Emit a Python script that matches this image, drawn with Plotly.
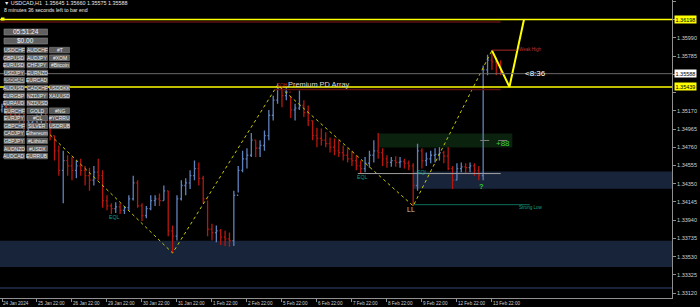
import plotly.graph_objects as go

# ---------------- data ----------------
symbol_line = "▼ USDCAD,H1  1.35645 1.35660 1.35575 1.35588"
timer_line = "8 minutes 36 seconds left to bar end"

# bar time (hours since 24 Jan 22:00, weekends removed), 3-hour bars
bar_hours = list(range(0, 345, 3))
bar_high = [1.3525, 1.3524, 1.3522, 1.3520, 1.3518, 1.3515, 1.3509, 1.3512, 1.3513, 1.3515,
            1.3518, 1.3512, 1.3489, 1.3478, 1.3472, 1.3467, 1.3465, 1.3461, 1.3463, 1.3455,
            1.3453, 1.3455, 1.3463, 1.3450, 1.3422, 1.3413, 1.3414, 1.3413, 1.3410, 1.3422,
            1.3444, 1.3439, 1.3413, 1.3410, 1.3422, 1.3422, 1.3424, 1.3433, 1.3427, 1.3388,
            1.3422, 1.3439, 1.3441, 1.3450, 1.3461, 1.3459, 1.3444, 1.3416, 1.3390, 1.3388,
            1.3384, 1.3382, 1.3380, 1.3427, 1.3455, 1.3472, 1.3475, 1.3492, 1.3484, 1.3484,
            1.3495, 1.3518, 1.3534, 1.3548, 1.3542, 1.3544, 1.3534, 1.3525, 1.3540, 1.3529,
            1.3523, 1.3506, 1.3498, 1.3497, 1.3493, 1.3487, 1.3486, 1.3484, 1.3478, 1.3475,
            1.3472, 1.3467, 1.3461, 1.3465, 1.3472, 1.3484, 1.3492, 1.3475, 1.3467, 1.3465,
            1.3466, 1.3465, 1.3463, 1.3461, 1.3458, 1.3480, 1.3475, 1.3470, 1.3472, 1.3475,
            1.3476, 1.3472, 1.3476, 1.3455, 1.3458, 1.3459, 1.3458, 1.3459, 1.3458, 1.3455,
            1.3568, 1.3580, 1.3585, 1.3577, 1.3574]
bar_low = [1.3515, 1.3513, 1.3509, 1.3506, 1.3502, 1.3495, 1.3492, 1.3497, 1.3499, 1.3502,
           1.3500, 1.3484, 1.3461, 1.3444, 1.3413, 1.3444, 1.3439, 1.3441, 1.3444, 1.3433,
           1.3427, 1.3433, 1.3439, 1.3408, 1.3405, 1.3401, 1.3402, 1.3401, 1.3401, 1.3405,
           1.3416, 1.3408, 1.3393, 1.3396, 1.3405, 1.3410, 1.3410, 1.3416, 1.3376, 1.3357,
           1.3371, 1.3416, 1.3422, 1.3429, 1.3439, 1.3433, 1.3413, 1.3376, 1.3371, 1.3369,
           1.3366, 1.3365, 1.3364, 1.3365, 1.3425, 1.3448, 1.3452, 1.3465, 1.3465, 1.3465,
           1.3472, 1.3484, 1.3506, 1.3525, 1.3521, 1.3529, 1.3509, 1.3506, 1.3518, 1.3510,
           1.3500, 1.3484, 1.3476, 1.3478, 1.3476, 1.3470, 1.3467, 1.3465, 1.3461, 1.3459,
           1.3455, 1.3450, 1.3446, 1.3448, 1.3453, 1.3459, 1.3463, 1.3455, 1.3453, 1.3454,
           1.3454, 1.3453, 1.3452, 1.3450, 1.3410, 1.3427, 1.3452, 1.3455, 1.3458, 1.3459,
           1.3461, 1.3458, 1.3450, 1.3429, 1.3439, 1.3448, 1.3446, 1.3448, 1.3444, 1.3439,
           1.3439, 1.3557, 1.3563, 1.3557, 1.3557]
bar_close = [1.3522, 1.3518, 1.3515, 1.3512, 1.3509, 1.3500, 1.3504, 1.3506, 1.3509, 1.3511,
             1.3506, 1.3489, 1.3472, 1.3450, 1.3461, 1.3455, 1.3450, 1.3455, 1.3450, 1.3444,
             1.3439, 1.3448, 1.3444, 1.3416, 1.3410, 1.3407, 1.3409, 1.3405, 1.3408, 1.3418,
             1.3436, 1.3410, 1.3399, 1.3407, 1.3416, 1.3418, 1.3416, 1.3427, 1.3382, 1.3376,
             1.3418, 1.3433, 1.3436, 1.3444, 1.3452, 1.3441, 1.3418, 1.3384, 1.3380, 1.3382,
             1.3375, 1.3373, 1.3371, 1.3422, 1.3450, 1.3463, 1.3467, 1.3484, 1.3475, 1.3478,
             1.3489, 1.3512, 1.3529, 1.3542, 1.3534, 1.3538, 1.3518, 1.3520, 1.3523, 1.3515,
             1.3506, 1.3489, 1.3486, 1.3484, 1.3480, 1.3476, 1.3472, 1.3470, 1.3467, 1.3463,
             1.3461, 1.3455, 1.3452, 1.3458, 1.3467, 1.3472, 1.3470, 1.3463, 1.3459, 1.3461,
             1.3459, 1.3460, 1.3458, 1.3455, 1.3433, 1.3472, 1.3461, 1.3463, 1.3467, 1.3468,
             1.3470, 1.3466, 1.3452, 1.3439, 1.3452, 1.3454, 1.3453, 1.3455, 1.3450, 1.3444,
             1.3563, 1.3574, 1.3572, 1.3568, 1.3559]
first_open = 1.3518
bar_open = [first_open] + bar_close[:-1]

# zigzag structure (hour, price)
zz_hours = [33, 117, 189, 282, 336]
zz_price = [1.3490, 1.3357, 1.3546, 1.3410, 1.3585]
# projected path
proj_hours = [336, 348, 358]
proj_price = [1.3585, 1.35439, 1.36198]

# price levels
level_top = 1.36198
level_top_red = 1.3617
level_mid = 1.35439
level_mid_red = 1.3541
current_price = 1.35588
eql_line = 1.34464
strong_low = 1.34114
weak_high = 1.35853
fvg_dash = 1.34836

# zones (price ranges)
zone_low_big = (1.33414, 1.33707)
zone_low_thin = (1.33166, 1.33188)
zone_demand = (1.34294, 1.34487)
zone_green = (1.34757, 1.34915)

# axis ticks
ytick_vals = [1.36400, 1.36195, 1.35990, 1.35785, 1.35580, 1.35375, 1.35170, 1.34965,
              1.34760, 1.34555, 1.34350, 1.34145, 1.33940, 1.33735, 1.33530, 1.33325, 1.33120]
ytick_hidden = [1.36195, 1.35580, 1.35375]   # covered by the price boxes
xtick_hours = [0, 24, 48, 72, 96, 120, 144, 168, 192, 216, 240, 264, 288, 312, 336]
xtick_text = ["24 Jan 2024", "25 Jan 22:00", "26 Jan 22:00", "29 Jan 22:00", "30 Jan 22:00",
              "31 Jan 22:00", "1 Feb 22:00", "2 Feb 22:00", "5 Feb 22:00", "6 Feb 22:00",
              "7 Feb 22:00", "8 Feb 22:00", "9 Feb 22:00", "12 Feb 22:00", "13 Feb 22:00"]

panel_col1 = ["USDCHF", "GBPUSD", "EURUSD", "USDJPY", "USDCAD", "AUDUSD", "EURGBP", "EURAUD",
              "EURCHF", "EURJPY", "GBPCHF", "CADJPY", "GBPJPY", "AUDNZD", "AUDCAD"]
panel_col2 = ["AUDCHF", "AUDJPY", "CHFJPY", "EURNZD", "EURCAD", "CADCHF", "NZDJPY", "NZDUSD",
              "GOLD", "#CL", "SILVER", "Ethereum", "#Lithium", "#USDX", "EURRUB"]
panel_col3 = ["#T", "#XOM", "#Bitcoin", "", "", "USDDKK", "XAUUSD", "",
              "#NG", "#YCRRU", "USDRUB", "", "", "", ""]
panel_clock = "05:51:24"
panel_money = "$0.00"

# ---------------- figure ----------------
W, H = 700, 307
PL, PR, PT, PB = 0, 28, 0, 9
PW, PH = W - PL - PR, H - PT - PB
XR = [-1.37, 459.5]
YR = [1.33064, 1.36417]

UP = "#5f82bd"
DN = "#b8170f"
YEL = "#ffff00"
FONT = "Liberation Sans"

def px(x):
    return x / PW

def py(y):
    return 1 - y / PH

fig = go.Figure()

fig.add_trace(go.Ohlc(
    x=bar_hours, open=bar_open, high=bar_high, low=bar_low, close=bar_close,
    increasing=dict(line=dict(color=UP, width=1.3)),
    decreasing=dict(line=dict(color=DN, width=1.3)),
    tickwidth=0.3, showlegend=False, hoverinfo="skip"))

fig.add_trace(go.Scatter(x=zz_hours, y=zz_price, mode="lines",
                         line=dict(color="#c8c800", width=1, dash="dot"),
                         showlegend=False, hoverinfo="skip"))
fig.add_trace(go.Scatter(x=proj_hours, y=proj_price, mode="lines",
                         line=dict(color=YEL, width=2),
                         showlegend=False, hoverinfo="skip"))

shapes = []
zone_col = "#18243a"
shapes.append(dict(type="rect", xref="paper", yref="y", x0=0, x1=1, y0=zone_low_big[0], y1=zone_low_big[1],
                   fillcolor=zone_col, line=dict(width=0), layer="below"))
shapes.append(dict(type="rect", xref="paper", yref="y", x0=0, x1=1, y0=zone_low_thin[0], y1=zone_low_thin[1],
                   fillcolor=zone_col, line=dict(width=0), layer="below"))
shapes.append(dict(type="rect", xref="x", yref="y", x0=282, x1=XR[1], y0=zone_demand[0], y1=zone_demand[1],
                   fillcolor=zone_col, line=dict(width=0), layer="below"))
shapes.append(dict(type="rect", xref="x", yref="y", x0=258, x1=350, y0=zone_green[0], y1=zone_green[1],
                   fillcolor="#0b220f", line=dict(width=0), layer="below"))
shapes.append(dict(type="line", xref="x", yref="y", x0=328, x1=348, y0=fvg_dash, y1=fvg_dash,
                   line=dict(color="#7a7a7a", width=1, dash="dash")))
shapes.append(dict(type="line", xref="paper", yref="y", x0=0, x1=1, y0=level_top, y1=level_top,
                   line=dict(color=YEL, width=1.5)))
shapes.append(dict(type="line", xref="x", yref="y", x0=XR[0], x1=342, y0=level_top_red, y1=level_top_red,
                   line=dict(color="#5e1010", width=1.5)))
shapes.append(dict(type="line", xref="paper", yref="y", x0=0, x1=1, y0=current_price, y1=current_price,
                   line=dict(color="#6a6a6a", width=1)))
shapes.append(dict(type="line", xref="x", yref="y", x0=187, x1=342, y0=level_mid_red, y1=level_mid_red,
                   line=dict(color="#5e1010", width=1.5)))
shapes.append(dict(type="line", xref="paper", yref="y", x0=0, x1=1, y0=level_mid, y1=level_mid,
                   line=dict(color=YEL, width=1.5)))
shapes.append(dict(type="line", xref="x", yref="y", x0=244, x1=342, y0=eql_line, y1=eql_line,
                   line=dict(color="#a0a0a0", width=1)))
shapes.append(dict(type="line", xref="x", yref="y", x0=282, x1=362, y0=strong_low, y1=strong_low,
                   line=dict(color="#0d6e5c", width=1)))
shapes.append(dict(type="line", xref="x", yref="y", x0=336, x1=353, y0=weak_high, y1=weak_high,
                   line=dict(color="#a82a2a", width=1)))
shapes.append(dict(type="rect", xref="paper", yref="paper", x0=px(1), x1=px(4.5),
                   y0=py(20.5), y1=py(17.5), fillcolor=YEL, line=dict(width=0)))

annotations = []
annotations.append(dict(text=symbol_line, xref="paper", yref="paper", x=px(2), y=py(3.5),
                        xanchor="left", yanchor="middle", showarrow=False,
                        font=dict(family=FONT, size=5.4, color="#e8e8e8")))
annotations.append(dict(text=timer_line, xref="paper", yref="paper", x=px(2), y=py(9.5),
                        xanchor="left", yanchor="middle", showarrow=False,
                        font=dict(family=FONT, size=5.2, color="#e8e8e8")))

btn_font = dict(family=FONT, size=5.0, color="#f0f0f0")
for (y0, txt) in [(29, panel_clock), (38, panel_money)]:
    shapes.append(dict(type="rect", xref="paper", yref="paper", x0=px(4), x1=px(47.5),
                       y0=py(y0 + 6), y1=py(y0), fillcolor="#606060",
                       line=dict(color="#8c8c8c", width=0.6)))
    annotations.append(dict(text=txt, xref="paper", yref="paper", x=px(25.75), y=py(y0 + 3),
                            xanchor="center", yanchor="middle", showarrow=False,
                            font=dict(family=FONT, size=6.5, color="#f4f4f4")))
cols = [(4, 24.5, panel_col1), (27, 47.5, panel_col2), (49.5, 69.5, panel_col3)]
for r in range(15):
    ytop = 47.3 + 7.57 * r
    for (xa, xb, names) in cols:
        name = names[r]
        if not name:
            continue
        fill = "#a8a8a8" if name == "USDCAD" else "#5c5c5c"
        fcol = "#303030" if name == "USDCAD" else "#f0f0f0"
        shapes.append(dict(type="rect", xref="paper", yref="paper", x0=px(xa), x1=px(xb),
                           y0=py(ytop + 5.6), y1=py(ytop), fillcolor=fill,
                           line=dict(color="#8c8c8c", width=0.5)))
        annotations.append(dict(text=name, xref="paper", yref="paper", x=px((xa + xb) / 2),
                                y=py(ytop + 2.9), xanchor="center", yanchor="middle",
                                showarrow=False, font=dict(btn_font, color=fcol)))

annotations += [
    dict(text="Premium PD Array", x=194.5, y=1.3547, xanchor="left", yanchor="middle",
         font=dict(family=FONT, size=7.4, color="#d8d8d8")),
    dict(text="EQH", x=187, y=1.3546, xanchor="left", yanchor="middle",
         font=dict(family=FONT, size=4.5, color="#c02020")),
    dict(text="EQL", x=77, y=1.3397, xanchor="center", yanchor="middle",
         font=dict(family=FONT, size=5.2, color="#18a088")),
    dict(text="EQL", x=247, y=1.3443, xanchor="center", yanchor="middle",
         font=dict(family=FONT, size=5.2, color="#18a088")),
    dict(text="EQL", x=288, y=1.3448, xanchor="center", yanchor="middle",
         font=dict(family=FONT, size=5.2, color="#18a088")),
    dict(text="LL", x=280.5, y=1.3406, xanchor="center", yanchor="middle",
         font=dict(family=FONT, size=7, color="#c8c8c8")),
    dict(text="<b>?</b>", x=329, y=1.3432, xanchor="center", yanchor="middle",
         font=dict(family=FONT, size=7.5, color="#30d030")),
    dict(text="+88", x=349.5, y=1.3480, xanchor="right", yanchor="middle",
         font=dict(family=FONT, size=8, color="#40d040")),
    dict(text="<8:36", x=357, y=current_price, xanchor="left", yanchor="middle",
         font=dict(family=FONT, size=8, color="#ffffff")),
    dict(text="Weak High", x=353.5, y=weak_high + 0.00003, xanchor="left", yanchor="middle",
         font=dict(family=FONT, size=4.5, color="#c03030")),
    dict(text="Strong Low", x=353.5, y=strong_low - 0.00028, xanchor="left", yanchor="middle",
         font=dict(family=FONT, size=4.5, color="#18a088")),
]
for a in annotations:
    a.setdefault("showarrow", False)
    if "xref" not in a:
        a["xref"] = "x"
        a["yref"] = "y"

for val, bg, fg in [(level_top, YEL, "#000000"), (current_price, "#ffffff", "#000000"),
                    (level_mid, YEL, "#000000")]:
    annotations.append(dict(text=f"{val:.5f}", xref="paper", yref="y", x=1, y=val,
                            xanchor="left", yanchor="middle", xshift=2, showarrow=False,
                            bgcolor=bg, borderpad=0.5,
                            font=dict(family=FONT, size=5.5, color=fg)))

ytick_text = ["" if v in ytick_hidden else f"{v:.5f}" for v in ytick_vals]

fig.update_layout(
    width=W, height=H, margin=dict(l=PL, r=PR, t=PT, b=PB, pad=0),
    paper_bgcolor="#000000", plot_bgcolor="#000000",
    shapes=shapes, annotations=annotations, showlegend=False,
    xaxis=dict(range=XR, rangeslider=dict(visible=False), showgrid=False, zeroline=False,
               tickmode="array", tickvals=xtick_hours, ticktext=xtick_text, tickangle=0,
               ticks="outside", ticklen=3, tickcolor="#909090",
               ticklabelposition="outside right",
               tickfont=dict(family=FONT, size=4.6, color="#d0d0d0"),
               showline=True, linecolor="#909090", linewidth=1),
    yaxis=dict(range=YR, side="right", showgrid=False, zeroline=False,
               tickmode="array", tickvals=ytick_vals, ticktext=ytick_text,
               ticks="outside", ticklen=3, tickcolor="#909090",
               tickfont=dict(family=FONT, size=5.5, color="#d0d0d0"),
               showline=True, linecolor="#909090", linewidth=1),
)

fig.write_html("out.html")
